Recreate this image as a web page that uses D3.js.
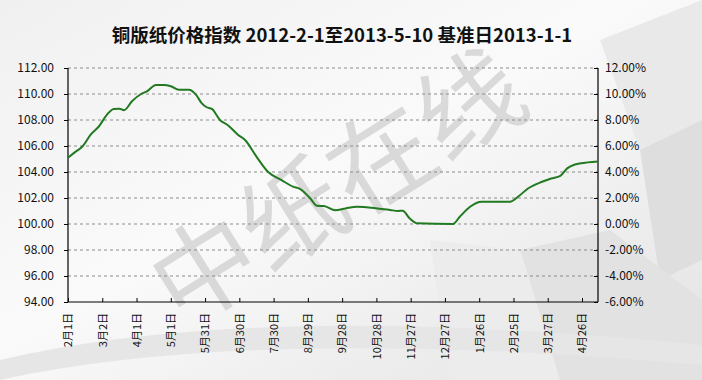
<!DOCTYPE html>
<html>
<head>
<meta charset="utf-8">
<script src="https://cdn.jsdelivr.net/npm/d3@7"></script>
<style>
  body { margin: 0; padding: 0; overflow: hidden; }
  text { font-family: "Noto Sans CJK SC", "Noto Sans", sans-serif; }
</style>
</head>
<body>
<script>
var width = 702;
var height = 380;

// index readings (base 2013-1-1 = 100)
var dates = [
  '2012-02-01','2012-02-06','2012-02-14','2012-02-21','2012-02-28','2012-03-06',
  '2012-03-12','2012-03-17','2012-03-21','2012-03-28','2012-04-05','2012-04-10',
  '2012-04-18','2012-04-25','2012-05-01','2012-05-08','2012-05-17','2012-05-23',
  '2012-05-28','2012-06-01','2012-06-06','2012-06-13','2012-06-20','2012-06-29',
  '2012-07-05','2012-07-15','2012-07-25','2012-08-06','2012-08-16','2012-08-22',
  '2012-08-31','2012-09-06','2012-09-12','2012-09-22','2012-10-01','2012-10-11',
  '2012-10-29','2012-11-09','2012-11-16','2012-11-20','2012-11-26','2012-12-03',
  '2013-01-03','2013-01-09','2013-01-18','2013-01-28','2013-02-22','2013-03-01',
  '2013-03-10','2013-03-22','2013-03-30','2013-04-07','2013-04-13','2013-04-20',
  '2013-05-01','2013-05-10'
];
var values = [
  105.1, 105.45, 106.0, 106.9, 107.5, 108.4,
  108.85, 108.87, 108.75, 109.44, 110.0, 110.2,
  110.7, 110.7, 110.6, 110.33, 110.33, 109.95,
  109.3, 109.0, 108.85, 108.0, 107.6, 106.85,
  106.46, 105.18, 104.02, 103.38, 102.87, 102.7,
  101.98, 101.4, 101.38, 101.05, 101.2, 101.33,
  101.2, 101.08, 101.0, 101.02, 100.44, 100.05,
  100.0, 100.56, 101.33, 101.72, 101.72, 102.1,
  102.75, 103.25, 103.5, 103.7, 104.28, 104.58,
  104.74, 104.8
];
var leftTicks = [94, 96, 98, 100, 102, 104, 106, 108, 110, 112];
var rightTicks = ['-6.00%','-4.00%','-2.00%','0.00%','2.00%','4.00%','6.00%','8.00%','10.00%','12.00%'];
var xTickCount = 16; // a label every 30 days from the start

var parse = d3.timeParse('%Y-%m-%d');
var start = parse('2012-02-01');
var end = parse('2013-05-10');
var data = dates.map(function(d, i) { return { date: parse(d), value: values[i] }; });
var xTicks = d3.range(xTickCount).map(function(i) { return d3.timeDay.offset(start, 30 * i); });

var margin = { left: 68, right: 104, top: 68, bottom: 78 };

var svg = d3.select('body').append('svg')
    .attr('width', width)
    .attr('height', height);

// background
var defs = svg.append('defs');
var grad = defs.append('linearGradient').attr('id', 'bg')
    .attr('x1', '0').attr('y1', '0').attr('x2', '1').attr('y2', '1');
grad.append('stop').attr('offset', '0%').attr('stop-color', '#f0f0f0');
grad.append('stop').attr('offset', '45%').attr('stop-color', '#fafafa');
grad.append('stop').attr('offset', '100%').attr('stop-color', '#e2e2e2');
svg.append('rect').attr('width', width).attr('height', height).attr('fill', 'url(#bg)');

// soft shapes on the right side
var shapes = [
  [[600, 40], [702, 0], [702, 120], [640, 150]],
  [[640, 150], [702, 120], [702, 260], [660, 280]],
  [[520, 250], [610, 230], [702, 300], [702, 380], [560, 380]],
  [[430, 240], [520, 250], [560, 380], [450, 380]]
];
var shapeFill = ['#e9e9e9', '#dedede', '#e2e2e2', '#ececec'];
svg.selectAll('polygon.bg').data(shapes).enter().append('polygon')
    .attr('class', 'bg')
    .attr('points', function(d) { return d.map(function(p) { return p.join(','); }).join(' '); })
    .attr('fill', function(d, i) { return shapeFill[i]; });

svg.append('path')
    .attr('d', 'M0,360 Q250,300 702,345 L702,365 Q250,325 0,380 Z')
    .attr('fill', '#e6e6e6');

// watermark
svg.append('text')
    .attr('transform', 'translate(338,188) rotate(-32)')
    .attr('text-anchor', 'middle')
    .attr('dy', '0.35em')
    .style('font-size', '104px')
    .attr('fill', '#cccccc')
    .attr('fill-opacity', 0.7)
    .text('中纸在线');

var x = d3.scaleTime()
    .domain([start, end])
    .range([margin.left, width - margin.right]);

var y = d3.scaleLinear()
    .domain([94, 112])
    .range([height - margin.bottom, margin.top]);

// grid
svg.append('g').selectAll('line')
    .data(leftTicks.slice(1))
    .enter().append('line')
    .attr('x1', margin.left).attr('x2', width - margin.right)
    .attr('y1', function(d) { return y(d); })
    .attr('y2', function(d) { return y(d); })
    .attr('stroke', '#8c8c8c')
    .attr('stroke-dasharray', '3,3');

// axes
var leftAxis = svg.append('g')
    .attr('transform', 'translate(' + margin.left + ',0)')
    .call(d3.axisLeft(y).tickValues(leftTicks).tickFormat(d3.format('.2f')).tickSize(4).tickPadding(10));

var rightAxis = svg.append('g')
    .attr('transform', 'translate(' + (width - margin.right) + ',0)')
    .call(d3.axisRight(y).tickValues(leftTicks).tickFormat(function(d, i) { return rightTicks[i]; }).tickSize(-4).tickPadding(7));

var bottomAxis = svg.append('g')
    .attr('transform', 'translate(0,' + (height - margin.bottom) + ')')
    .call(d3.axisBottom(x).tickValues(xTicks)
      .tickFormat(function(d) { return (d.getMonth() + 1) + '月' + d.getDate() + '日'; })
      .tickSize(-4));

[leftAxis, rightAxis, bottomAxis].forEach(function(a) {
  a.select('.domain').attr('stroke', '#000').attr('stroke-width', 1.2);
  a.selectAll('.tick line').attr('stroke', '#000');
  a.selectAll('text').style('font-size', '12px').attr('fill', '#111')
    .style('font-family', '"Noto Sans CJK SC", sans-serif');
});

bottomAxis.selectAll('text')
    .attr('transform', 'rotate(-90)')
    .attr('x', -11)
    .attr('y', 0)
    .attr('dy', '0.35em')
    .style('font-size', '11px')
    .style('text-anchor', 'end');

bottomAxis.select('.domain').attr('d', 'M' + margin.left + ',0H' + (width - margin.right));
leftAxis.select('.domain').attr('d', 'M0,' + y(112) + 'V' + y(94));
rightAxis.select('.domain').attr('d', 'M0,' + y(112) + 'V' + y(94));

// line
var line = d3.line()
    .x(function(d) { return x(d.date); })
    .y(function(d) { return y(d.value); })
    .curve(d3.curveMonotoneX);

svg.append('path')
    .datum(data)
    .attr('d', line)
    .attr('fill', 'none')
    .attr('stroke', '#217a21')
    .attr('stroke-width', 2);

// title
svg.append('text')
    .attr('x', 342)
    .attr('y', 42)
    .attr('text-anchor', 'middle')
    .style('font-size', '18.5px')
    .style('font-weight', 'bold')
    .attr('fill', '#111')
    .text('铜版纸价格指数 2012-2-1至2013-5-10 基准日2013-1-1');
</script>
</body>
</html>
